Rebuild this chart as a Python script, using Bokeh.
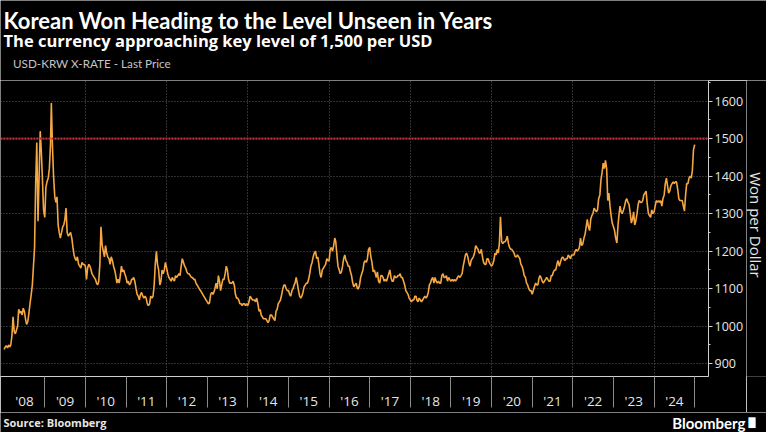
import math
import pandas as pd
from bokeh.plotting import figure
from bokeh.layouts import column, row
from bokeh.models import (ColumnDataSource, Range1d, FixedTicker, Span, Label,
                          Legend, LegendItem)
from bokeh.embed import file_html
from bokeh.resources import INLINE

# ---------------- text ----------------
TITLE = "Korean Won Heading to the Level Unseen in Years"
SUBTITLE = "The currency approaching key level of 1,500 per USD"
SERIES_NAME = "USD-KRW X-RATE - Last Price"
Y_LABEL = "Won per Dollar"
SOURCE = "Source: Bloomberg"
BRAND = "Bloomberg"

# ---------------- data ----------------
KEY_LEVEL = 1500
Y_TICKS = [900, 1000, 1100, 1200, 1300, 1400, 1500, 1600]
Y_MINOR = [850, 950, 1050, 1150, 1250, 1350, 1450, 1550, 1650]
LABEL_YEARS = list(range(2008, 2025))
GRID_YEARS = list(range(2010, 2025, 2))
SAMPLE_DAYS = [1, 11, 21]   # three readings per month (day of month)

# USD-KRW: Jan 1, Jan 11, Jan 21, Feb 1, ... Dec 21
krw_2008 = [938, 945, 948, 942, 950, 945, 950, 975, 1025, 985, 980, 990,
            1000, 1045, 1035, 1040, 1030, 1048, 1040, 1020, 1005, 1012, 1035, 1060,
            1085, 1110, 1160, 1210, 1380, 1490, 1280, 1400, 1520, 1465, 1390, 1310]
krw_2009 = [1290, 1370, 1385, 1395, 1420, 1480, 1595, 1480, 1400, 1345, 1330, 1345,
            1270, 1250, 1235, 1250, 1265, 1270, 1285, 1315, 1250, 1240, 1245, 1250,
            1235, 1210, 1190, 1180, 1175, 1185, 1165, 1160, 1155, 1170, 1165, 1165]
krw_2010 = [1160, 1125, 1155, 1165, 1160, 1150, 1140, 1135, 1130, 1125, 1115, 1110,
            1120, 1165, 1265, 1215, 1200, 1185, 1215, 1195, 1185, 1180, 1165, 1185,
            1175, 1160, 1150, 1135, 1115, 1125, 1115, 1135, 1160, 1145, 1150, 1140]
krw_2011 = [1130, 1115, 1120, 1110, 1115, 1125, 1125, 1130, 1120, 1100, 1085, 1080,
            1070, 1085, 1090, 1080, 1075, 1080, 1075, 1060, 1055, 1060, 1080, 1075,
            1080, 1110, 1165, 1200, 1165, 1150, 1110, 1120, 1150, 1140, 1150, 1170]
krw_2012 = [1155, 1140, 1130, 1125, 1120, 1130, 1125, 1120, 1135, 1130, 1135, 1140,
            1135, 1160, 1180, 1170, 1160, 1155, 1145, 1140, 1140, 1135, 1130, 1130,
            1125, 1125, 1115, 1110, 1105, 1100, 1095, 1090, 1085, 1080, 1075, 1070]
krw_2013 = [1065, 1060, 1062, 1085, 1090, 1085, 1090, 1100, 1115, 1100, 1135, 1120,
            1095, 1110, 1125, 1125, 1140, 1160, 1150, 1125, 1115, 1115, 1115, 1120,
            1110, 1085, 1075, 1075, 1070, 1060, 1060, 1055, 1060, 1060, 1055, 1060]
krw_2014 = [1055, 1065, 1080, 1075, 1070, 1070, 1070, 1065, 1075, 1060, 1040, 1045,
            1030, 1025, 1020, 1020, 1020, 1015, 1010, 1015, 1030, 1030, 1025, 1020,
            1015, 1040, 1045, 1060, 1065, 1070, 1085, 1100, 1110, 1110, 1100, 1095]
krw_2015 = [1095, 1085, 1080, 1095, 1100, 1110, 1115, 1130, 1115, 1095, 1080, 1075,
            1080, 1090, 1105, 1110, 1115, 1115, 1125, 1140, 1160, 1170, 1185, 1195,
            1200, 1180, 1185, 1165, 1140, 1130, 1150, 1155, 1160, 1165, 1180, 1175]
krw_2016 = [1175, 1205, 1210, 1200, 1215, 1235, 1225, 1190, 1160, 1150, 1140, 1145,
            1160, 1180, 1190, 1175, 1170, 1160, 1160, 1145, 1135, 1115, 1105, 1110,
            1115, 1100, 1100, 1110, 1130, 1140, 1150, 1170, 1175, 1170, 1180, 1205]
krw_2017 = [1210, 1185, 1170, 1145, 1150, 1140, 1130, 1145, 1120, 1115, 1135, 1135,
            1130, 1120, 1125, 1120, 1130, 1140, 1150, 1130, 1120, 1120, 1135, 1130,
            1130, 1135, 1135, 1140, 1130, 1130, 1120, 1110, 1095, 1090, 1085, 1075]
krw_2018 = [1070, 1065, 1070, 1070, 1080, 1080, 1070, 1065, 1075, 1070, 1065, 1070,
            1075, 1080, 1075, 1080, 1090, 1110, 1115, 1125, 1130, 1115, 1130, 1120,
            1115, 1120, 1115, 1115, 1135, 1140, 1130, 1130, 1135, 1120, 1130, 1125]
krw_2019 = [1120, 1125, 1120, 1125, 1120, 1125, 1130, 1135, 1130, 1135, 1140, 1160,
            1175, 1190, 1195, 1185, 1170, 1160, 1175, 1180, 1185, 1195, 1215, 1210,
            1205, 1195, 1195, 1205, 1185, 1170, 1165, 1165, 1180, 1180, 1170, 1165]
krw_2020 = [1160, 1165, 1175, 1195, 1190, 1205, 1195, 1220, 1292, 1225, 1220, 1225,
            1225, 1230, 1240, 1220, 1210, 1205, 1205, 1200, 1195, 1185, 1185, 1190,
            1185, 1180, 1165, 1160, 1150, 1135, 1130, 1115, 1110, 1100, 1095, 1095]
krw_2021 = [1085, 1095, 1105, 1115, 1110, 1110, 1125, 1135, 1130, 1120, 1115, 1120,
            1125, 1130, 1125, 1120, 1120, 1135, 1135, 1145, 1150, 1150, 1165, 1175,
            1160, 1170, 1180, 1185, 1180, 1175, 1180, 1180, 1190, 1185, 1180, 1190]
krw_2022 = [1190, 1190, 1200, 1205, 1200, 1205, 1210, 1235, 1215, 1220, 1235, 1245,
            1265, 1285, 1265, 1255, 1285, 1295, 1300, 1315, 1310, 1305, 1310, 1340,
            1350, 1390, 1410, 1435, 1420, 1442, 1420, 1335, 1355, 1320, 1295, 1275]
krw_2023 = [1265, 1255, 1235, 1222, 1270, 1300, 1320, 1305, 1300, 1310, 1320, 1335,
            1340, 1330, 1325, 1300, 1275, 1285, 1305, 1270, 1280, 1300, 1325, 1335,
            1330, 1330, 1335, 1350, 1355, 1360, 1325, 1300, 1295, 1290, 1310, 1300]
krw_2024 = [1305, 1320, 1335, 1330, 1335, 1330, 1335, 1320, 1340, 1350, 1380, 1395,
            1375, 1355, 1360, 1375, 1380, 1385, 1380, 1385, 1385, 1365, 1340, 1335,
            1335, 1335, 1320, 1307, 1350, 1380, 1380, 1395, 1400, 1395, 1415, 1470]
krw_2025 = [1484]

YEARLY = {2008: krw_2008, 2009: krw_2009, 2010: krw_2010, 2011: krw_2011,
          2012: krw_2012, 2013: krw_2013, 2014: krw_2014, 2015: krw_2015,
          2016: krw_2016, 2017: krw_2017, 2018: krw_2018, 2019: krw_2019,
          2020: krw_2020, 2021: krw_2021, 2022: krw_2022, 2023: krw_2023,
          2024: krw_2024, 2025: krw_2025}

# ---------------- styling ----------------
ORANGE = "#f5a742"
RED = "#c8283a"
BG = "#000000"
FG = "#e6e6e6"
GRID = "#5e5e5e"
SANS = "Open Sans"
TITLE_FONT = "Lato"
W = 766
SIDE_W = 20
TOP_H, MAIN_H, FOOT_H = 80, 332, 20

xs, ys = [], []
for yr, vals in YEARLY.items():
    for i, v in enumerate(vals):
        ts = pd.Timestamp(yr, i // 3 + 1, SAMPLE_DAYS[i % 3])
        ndays = 366 if ts.is_leap_year else 365
        xs.append(yr + (ts.dayofyear - 1) / ndays)
        ys.append(v)
src = ColumnDataSource(dict(x=xs, y=ys))


def text_panel(w, h):
    f = figure(width=w, height=h, output_backend="svg", toolbar_location=None,
               x_range=Range1d(0, w), y_range=Range1d(0, h),
               x_axis_type=None, y_axis_type=None, title=None,
               background_fill_color=BG, border_fill_color=BG,
               min_border=0, min_border_left=0, min_border_right=0,
               min_border_top=0, min_border_bottom=0)
    f.grid.visible = False
    f.outline_line_color = None
    return f


# ---------------- header ----------------
top = text_panel(W, TOP_H)
top.add_layout(Label(x=3, y=TOP_H - 20, text=TITLE, text_font=TITLE_FONT,
                     text_font_style="bold", text_font_size="22px",
                     text_color="#ffffff", text_baseline="alphabetic"))
top.add_layout(Label(x=3, y=TOP_H - 39.5, text=SUBTITLE, text_font=SANS,
                     text_font_style="bold", text_font_size="16.5px",
                     text_color="#ffffff", text_baseline="alphabetic"))
swatch = top.scatter(x=[], y=[], marker="square", size=8, fill_color=ORANGE,
                     line_color=None)
legend = Legend(items=[LegendItem(label=SERIES_NAME, renderers=[swatch])],
                location=(3, 10), orientation="horizontal",
                glyph_width=7, glyph_height=8, label_standoff=3,
                label_text_font=TITLE_FONT, label_text_font_size="11.7px",
                label_text_color="#c4c4c4", label_height=12,
                padding=0, margin=0, spacing=0,
                background_fill_alpha=0, border_line_alpha=0)
top.add_layout(legend)

# ---------------- main chart ----------------
X0, X1 = 2007.91, 2025.34
Y0, Y1 = 866, 1655

p = figure(width=W - SIDE_W, height=MAIN_H, output_backend="svg",
           toolbar_location=None,
           x_range=Range1d(X0, X1), y_range=Range1d(Y0, Y1),
           y_axis_location="right", title=None,
           background_fill_color=BG, border_fill_color=BG,
           min_border=0, min_border_left=0, min_border_top=0,
           min_border_bottom=32, min_border_right=0)
p.outline_line_color = None

p.xgrid.ticker = FixedTicker(ticks=GRID_YEARS)
p.ygrid.ticker = FixedTicker(ticks=Y_TICKS)
for g in (p.xgrid, p.ygrid):
    g.grid_line_color = GRID
    g.grid_line_dash = "1 2"
    g.grid_line_width = 1

p.add_layout(Span(location=KEY_LEVEL, dimension="width", line_color=RED,
                  line_width=2.4, line_dash="2 1"))

p.line("x", "y", source=src, line_color=ORANGE, line_width=1.6)

xa = p.xaxis[0]
xa.ticker = FixedTicker(ticks=[y + 0.5 for y in LABEL_YEARS],
                        minor_ticks=list(range(2009, 2026)))
xa.major_label_overrides = {y + 0.5: "'%02d" % (y % 100) for y in LABEL_YEARS}
xa.axis_line_color = "#d0d0d0"
xa.major_tick_out = 0
xa.major_tick_in = 0
xa.minor_tick_out = 31
xa.minor_tick_in = 0
xa.minor_tick_line_color = "#8a8a8a"
xa.major_label_standoff = -16
xa.major_label_text_font = SANS
xa.major_label_text_font_size = "13.5px"
xa.major_label_text_color = FG

ya = p.yaxis[0]
ya.ticker = FixedTicker(ticks=Y_TICKS, minor_ticks=Y_MINOR)
ya.axis_line_color = "#d0d0d0"
ya.major_tick_line_color = "#d0d0d0"
ya.minor_tick_line_color = "#d0d0d0"
ya.major_tick_out = 4
ya.major_tick_in = 0
ya.minor_tick_out = 2
ya.minor_tick_in = 0
ya.major_label_standoff = 2
ya.major_label_text_font = SANS
ya.major_label_text_font_size = "12.5px"
ya.major_label_text_color = FG

# y-axis title in a narrow side panel (reads top to bottom)
side = text_panel(SIDE_W, MAIN_H)
side.add_layout(Label(x=9, y=MAIN_H - 162, text=Y_LABEL, text_font=SANS,
                      text_font_size="15px", text_color=FG, angle=-math.pi / 2,
                      text_align="center", text_baseline="middle"))

# ---------------- footer ----------------
foot = text_panel(W, FOOT_H)
foot.add_layout(Label(x=3, y=10, text=SOURCE, text_font=SANS,
                      text_font_style="bold", text_font_size="11px",
                      text_color=FG, text_baseline="alphabetic"))
foot.add_layout(Label(x=745, y=10, text=BRAND, text_font=TITLE_FONT,
                      text_font_style="bold", text_font_size="15px",
                      text_color="#ffffff", text_baseline="alphabetic",
                      text_align="right"))
foot.add_layout(Label(x=748, y=10, text="\u2588", text_font="DejaVu Sans",
                      text_font_size="9px", text_color="#ffffff",
                      text_baseline="alphabetic"))

layout = column(top, row(p, side, spacing=0), foot, spacing=0)
open("out.html", "w").write(file_html(layout, INLINE))
